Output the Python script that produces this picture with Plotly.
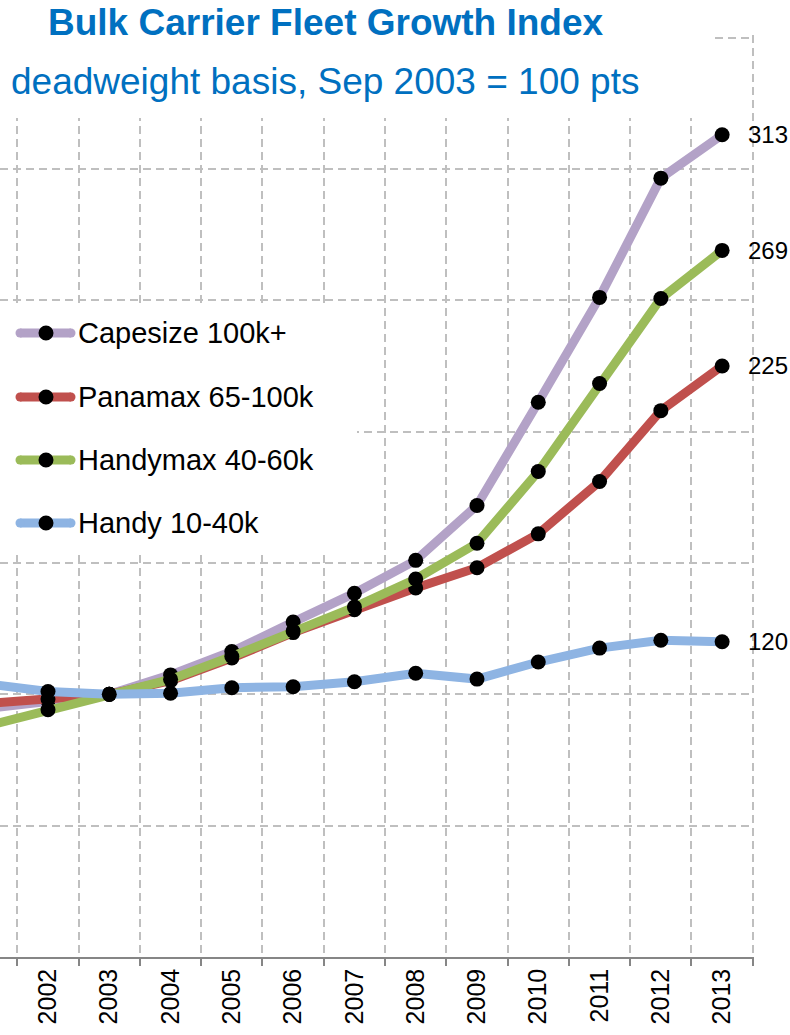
import plotly.graph_objects as go

# Fleet index values, September of each year, Sep 2003 = 100
years = ["2001", "2002", "2003", "2004", "2005", "2006", "2007",
         "2008", "2009", "2010", "2011", "2012", "2013"]

capesize = [94.6, 97.6, 100, 107.4, 116.3, 127.5, 138.5, 151.0, 171.9, 211.2, 251.1, 296.5, 313]
panamax = [96.5, 98.2, 100, 105.2, 113.8, 123.5, 132.2, 140.5, 148.2, 161.1, 181.0, 208.0, 225]
handymax = [87.9, 94.1, 100, 105.7, 114.4, 124.1, 133.2, 143.9, 157.5, 184.8, 218.3, 250.7, 269]
handy = [104.0, 101.1, 100, 100.4, 102.5, 102.9, 104.8, 108.0, 105.8, 112.3, 117.6, 120.6, 120]

series_names = ["Capesize 100k+", "Panamax 65-100k", "Handymax 40-60k", "Handy 10-40k"]
series_values = [capesize, panamax, handymax, handy]
series_colors = ["#B3A2C7", "#C0504D", "#9BBB59", "#8EB4E3"]

title_text = "Bulk Carrier Fleet Growth Index"
subtitle_text = "deadweight basis, Sep 2003 = 100 pts"

FONT = "Liberation Sans, Arial, sans-serif"
WIDTH, HEIGHT = 790, 1035
M_L, M_R, M_T, M_B = 0, 36, 35, 78
PW = WIDTH - M_L - M_R
PH = HEIGHT - M_T - M_B
LINE_W = 9


def xp(px):
    """pixel x -> paper x"""
    return (px - M_L) / PW


def yp(py):
    """pixel y (from top of page) -> paper y"""
    return (HEIGHT - M_B - py) / PH


fig = go.Figure()

for name, vals, col in zip(series_names, series_values, series_colors):
    fig.add_trace(go.Scatter(
        x=years, y=vals, name=name, mode="lines+markers",
        line=dict(color=col, width=LINE_W),
        marker=dict(color="black", size=15),
        showlegend=False,
    ))

shapes = []
annotations = []

# white panels behind the heading and the key
shapes.append(dict(type="rect", xref="paper", yref="paper", layer="above",
                   x0=xp(-5), x1=xp(714), y0=yp(118), y1=yp(-5),
                   fillcolor="white", line=dict(width=0)))
shapes.append(dict(type="rect", xref="paper", yref="paper", layer="above",
                   x0=xp(-5), x1=xp(357), y0=yp(553), y1=yp(305),
                   fillcolor="white", line=dict(width=0)))

# key entries
key_rows = [333, 397, 460, 523]
half = LINE_W / 2
for name, col, ry in zip(series_names, series_colors, key_rows):
    shapes.append(dict(type="line", xref="paper", yref="paper", layer="above",
                       x0=xp(20), x1=xp(71), y0=yp(ry), y1=yp(ry),
                       line=dict(color=col, width=LINE_W)))
    for cx in (20, 71):
        shapes.append(dict(type="circle", xref="paper", yref="paper", layer="above",
                           x0=xp(cx - half), x1=xp(cx + half),
                           y0=yp(ry + half), y1=yp(ry - half),
                           fillcolor=col, line=dict(width=0)))
    shapes.append(dict(type="circle", xref="paper", yref="paper", layer="above",
                       x0=xp(46 - 7.5), x1=xp(46 + 7.5), y0=yp(ry + 7.5), y1=yp(ry - 7.5),
                       fillcolor="black", line=dict(width=0)))
    annotations.append(dict(xref="paper", yref="paper", x=xp(76), y=yp(ry),
                            xanchor="left", yanchor="middle", showarrow=False,
                            text=name, font=dict(family=FONT, size=29, color="black")))

# end-of-line values (category axis positions are serial indices)
last_idx = len(years) - 1
for vals in series_values:
    annotations.append(dict(xref="x", yref="y", x=last_idx, y=vals[-1],
                            xshift=24, xanchor="left", yanchor="middle",
                            showarrow=False, text=f"{vals[-1]:.0f}",
                            font=dict(family=FONT, size=24, color="black")))

# heading
annotations.append(dict(xref="paper", yref="paper", x=xp(326), y=yp(22),
                        xanchor="center", yanchor="middle", showarrow=False,
                        text=f"<b>{title_text}</b>",
                        font=dict(family=FONT, size=37, color="#0070C0")))
annotations.append(dict(xref="paper", yref="paper", x=xp(325), y=yp(81),
                        xanchor="center", yanchor="middle", showarrow=False,
                        text=subtitle_text,
                        font=dict(family=FONT, size=37, color="#0070C0")))

grid_style = dict(showgrid=True, gridcolor="#BFBFBF", gridwidth=1.5, griddash="8px,5px")

fig.update_layout(
    width=WIDTH, height=HEIGHT,
    margin=dict(l=M_L, r=M_R, t=M_T, b=M_B),
    paper_bgcolor="white", plot_bgcolor="white",
    showlegend=False,
    shapes=shapes, annotations=annotations,
    xaxis=dict(type="category", range=[0.217, 12.52], tickson="boundaries",
               ticks="outside", ticklen=7, tickwidth=1.5, tickcolor="#868686",
               showline=True, linecolor="#868686", linewidth=1.5,
               tickangle=-90, tickfont=dict(family=FONT, size=25, color="black"),
               zeroline=False, **grid_style),
    yaxis=dict(range=[0, 351], tick0=0, dtick=50, showticklabels=False,
               ticks="", showline=False, zeroline=False, **grid_style),
)

fig.write_html("out.html")
